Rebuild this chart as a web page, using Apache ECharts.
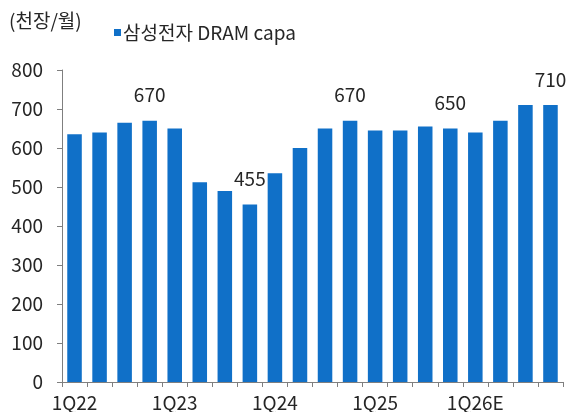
<!DOCTYPE html>
<html>
<head>
<meta charset="utf-8">
<script src="https://cdn.jsdelivr.net/npm/echarts@6/dist/echarts.min.js"></script>
<style>
html,body{margin:0;padding:0;background:#fff;}
#c{width:569px;height:412px;}
</style>
</head>
<body>
<div id="c"></div>
<script>
var categories = ['1Q22','2Q22','3Q22','4Q22','1Q23','2Q23','3Q23','4Q23','1Q24','2Q24','3Q24','4Q24','1Q25','2Q25','3Q25','4Q25','1Q26E','2Q26E','3Q26E','4Q26E'];
var capa = [635,640,665,670,650,512,490,455,535,600,650,670,645,645,655,650,640,670,710,710];
var labelled = ['4Q22','4Q23','4Q24','4Q25','4Q26E'];
var yTicks = [0,100,200,300,400,500,600,700,800];
var seriesName = '삼성전자 DRAM capa';
var unitText = '(천장/월)';

var FONT = '"Noto Sans CJK KR","Noto Sans",sans-serif';
var FS = 19;
var TXT = '#262626';
var BLUE = '#1070C8';

var chart = echarts.init(document.getElementById('c'), null, {renderer:'canvas'});
chart.setOption({
  animation:false,
  textStyle:{fontFamily:FONT},
  title:{text:unitText,left:4,top:6,textStyle:{fontFamily:FONT,fontSize:FS,fontWeight:'normal',color:TXT}},
  legend:{
    left:109,top:18,itemWidth:7,itemHeight:7,itemGap:4,
    icon:'rect',
    textStyle:{fontFamily:FONT,fontSize:FS,color:TXT,padding:[0,0,0,-3]},
    data:[seriesName]
  },
  grid:{left:62,right:6,top:70,bottom:30,containLabel:false},
  xAxis:{
    type:'category',
    data:categories,
    axisLine:{lineStyle:{color:'#7f7f7f',width:1}},
    axisTick:{show:true,interval:0,length:5,lineStyle:{color:'#7f7f7f'}},
    axisLabel:{interval:3,margin:11,fontSize:FS,color:TXT,fontFamily:FONT}
  },
  yAxis:{
    type:'value',
    min:yTicks[0],max:yTicks[yTicks.length-1],interval:100,
    splitLine:{show:false},
    axisLine:{show:true,lineStyle:{color:'#7f7f7f',width:1}},
    axisTick:{show:true,length:5,lineStyle:{color:'#7f7f7f'}},
    axisLabel:{margin:19,fontSize:FS,color:TXT,fontFamily:FONT}
  },
  series:[{
    name:seriesName,
    type:'bar',
    barWidth:'58%',
    itemStyle:{color:BLUE},
    data:capa.map(function(v,i){
      return {value:v,label:{show:labelled.indexOf(categories[i])>=0}};
    }),
    label:{position:'top',distance:16,fontSize:FS,color:TXT,fontFamily:FONT}
  }]
});
</script>
</body>
</html>
